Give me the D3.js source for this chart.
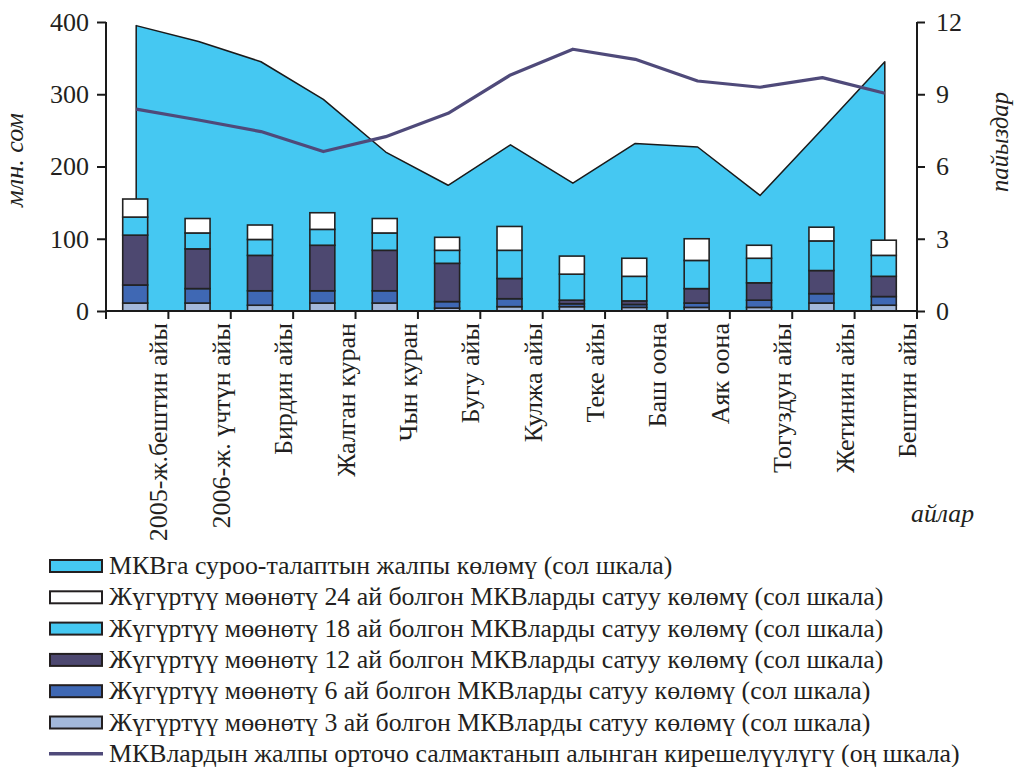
<!DOCTYPE html>
<html>
<head>
<meta charset="utf-8">
<script src="https://cdn.jsdelivr.net/npm/d3@7"></script>
</head>
<body style="margin:0">
<svg id="chart" width="1014" height="767"></svg>
<script>
const categories = ["2005-ж.бештин айы", "2006-ж. үчтүн айы", "Бирдин айы", "Жалган куран", "Чын куран",
  "Бугу айы", "Кулжа айы", "Теке айы", "Баш оона", "Аяк оона", "Тогуздун айы", "Жетинин айы", "Бештин айы"];

// total demand (left scale, mln som)
const demand = [395, 373, 345, 293, 220, 174, 230, 177, 232, 227, 160, 252, 345];
// sales volumes by maturity (left scale)
const sales3  = [11, 11, 8, 11, 11, 4, 6, 6, 5, 5, 5, 11, 8];
const sales6  = [25, 20, 20, 17, 17, 9, 11, 4, 4, 6, 10, 13, 12];
const sales12 = [69, 55, 49, 63, 56, 53, 28, 5, 5, 20, 24, 32, 28];
const sales18 = [25, 22, 22, 22, 24, 18, 39, 36, 34, 39, 34, 41, 29];
const sales24 = [25, 20, 20, 23, 20, 18, 33, 25, 25, 30, 18, 19, 21];
// weighted average yield (right scale, %)
const yieldVals = [8.38, 7.93, 7.45, 6.62, 7.24, 8.21, 9.80, 10.87, 10.45, 9.55, 9.29, 9.69, 9.04];

const leftTicks = [0, 100, 200, 300, 400];
const rightTicks = [0, 3, 6, 9, 12];

const seriesKeys = ["s3", "s6", "s12", "s18", "s24"];
const seriesColors = { s3: "#a3b8da", s6: "#3f68b4", s12: "#4d4870", s18: "#45c8f2", s24: "#ffffff" };
const areaColor = "#45c8f2";
const lineColor = "#4f4a7a";

const legendItems = [
  { label: "МКВга суроо-талаптын жалпы көлөмү (сол шкала)", type: "rect", color: areaColor },
  { label: "Жүгүртүү мөөнөтү 24 ай болгон МКВларды сатуу көлөмү (сол шкала)", type: "rect", color: seriesColors.s24 },
  { label: "Жүгүртүү мөөнөтү 18 ай болгон МКВларды сатуу көлөмү (сол шкала)", type: "rect", color: seriesColors.s18 },
  { label: "Жүгүртүү мөөнөтү 12 ай болгон МКВларды сатуу көлөмү (сол шкала)", type: "rect", color: seriesColors.s12 },
  { label: "Жүгүртүү мөөнөтү 6 ай болгон МКВларды сатуу көлөмү (сол шкала)", type: "rect", color: seriesColors.s6 },
  { label: "Жүгүртүү мөөнөтү 3 ай болгон МКВларды сатуу көлөмү (сол шкала)", type: "rect", color: seriesColors.s3 },
  { label: "МКВлардын жалпы орточо салмактанып алынган кирешелүүлүгү (оң шкала)", type: "line", color: lineColor }
];

const FONT = `"Liberation Serif", serif`;
const TEXT = "#231f20";
const ctx = document.createElement("canvas").getContext("2d");
function w(font, txt) { ctx.font = font; return ctx.measureText(txt).width; }
function fit(txt, target, italic) {
  const base = 40;
  return base * target / w(`${italic ? "italic " : ""}${base}px "Liberation Serif"`, txt);
}
function styleText(sel, size, italic) {
  sel.style("font-family", FONT).attr("font-size", size).attr("fill", TEXT);
  if (italic) sel.style("font-style", "italic");
  return sel;
}

const svg = d3.select("#chart").style("display", "block");
const L = 106, R = 917, T = 22, B = 311;

const x = d3.scaleBand().domain(d3.range(categories.length)).range([L, R]).padding(0);
const yL = d3.scaleLinear().domain([0, 400]).range([B, T]);
const yR = d3.scaleLinear().domain([0, 12]).range([B, T]);
const cx = i => x(i) + x.bandwidth() / 2 - 1;

// area
const area = d3.area().x((d, i) => cx(i)).y0(B).y1(d => yL(d));
svg.append("path").datum(demand)
  .attr("d", area)
  .attr("fill", areaColor)
  .attr("stroke", "#1a1a1a").attr("stroke-width", 1.5).attr("stroke-linejoin", "round");

// stacked bars
const rows = categories.map((c, i) => ({ s3: sales3[i], s6: sales6[i], s12: sales12[i], s18: sales18[i], s24: sales24[i] }));
const stacked = d3.stack().keys(seriesKeys)(rows);
const bw = x.bandwidth() * 0.4;
stacked.forEach(layer => {
  svg.append("g").selectAll("rect").data(layer).join("rect")
    .attr("x", (d, i) => cx(i) - bw / 2 - 1)
    .attr("width", bw)
    .attr("y", d => yL(d[1]))
    .attr("height", d => yL(d[0]) - yL(d[1]))
    .attr("fill", seriesColors[layer.key])
    .attr("stroke", "#222").attr("stroke-width", 1.6);
});

// line
const line = d3.line().x((d, i) => cx(i)).y(d => yR(d));
svg.append("path").datum(yieldVals)
  .attr("d", line).attr("fill", "none")
  .attr("stroke", lineColor).attr("stroke-width", 3.2).attr("stroke-linejoin", "round");

// axes
const axisFont = fit("400", 39, false);
const gL = svg.append("g").attr("transform", `translate(${L},0)`)
  .call(d3.axisLeft(yL).tickValues(leftTicks).tickSize(9).tickPadding(8).tickFormat(d3.format("d")));
const gR = svg.append("g").attr("transform", `translate(${R},0)`)
  .call(d3.axisRight(yR).tickValues(rightTicks).tickSize(8).tickPadding(11).tickFormat(d3.format("d")));
[gL, gR].forEach(g => {
  g.attr("font-family", null).attr("font-size", null);
  g.select(".domain").remove();
  g.selectAll(".tick line").attr("stroke", "#1a1a1a").attr("stroke-width", 2);
  styleText(g.selectAll("text"), axisFont, false);
});
svg.append("line").attr("x1", L).attr("x2", L).attr("y1", T).attr("y2", B + 7).attr("stroke", "#1a1a1a").attr("stroke-width", 2);
svg.append("line").attr("x1", R).attr("x2", R).attr("y1", T).attr("y2", B + 7).attr("stroke", "#1a1a1a").attr("stroke-width", 2);

// x axis
svg.append("line").attr("x1", L).attr("x2", R).attr("y1", B).attr("y2", B).attr("stroke", "#1a1a1a").attr("stroke-width", 2);
const xTicks = d3.range(categories.length + 1).map(i => L + i * x.bandwidth());
svg.append("g").selectAll("line").data(xTicks).join("line")
  .attr("x1", d => d).attr("x2", d => d).attr("y1", B).attr("y2", B + 8)
  .attr("stroke", "#1a1a1a").attr("stroke-width", 2);

const xFont = fit(categories[2], 132, false);
styleText(svg.append("g").selectAll("text").data(categories).join("text")
  .attr("transform", (d, i) => `translate(${x(i) + x.bandwidth() - 1},${B + 12}) rotate(-90)`)
  .attr("text-anchor", "end")
  .text(d => d), xFont, false);

// axis titles
styleText(svg.append("text").attr("transform", "translate(23,160) rotate(-90)")
  .attr("text-anchor", "middle").text("млн. сом"), fit("млн. сом", 94, true), true);
styleText(svg.append("text").attr("transform", "translate(1008,142) rotate(-90)")
  .attr("text-anchor", "middle").text("пайыздар"), fit("пайыздар", 100, true), true);
styleText(svg.append("text").attr("x", 974).attr("y", 522)
  .attr("text-anchor", "end").text("айлар"), fit("айлар", 63, true), true);

// legend
const legFont = fit(legendItems[6].label, 851, false);
const lg = svg.append("g");
legendItems.forEach((it, i) => {
  const yc = 566 + i * 31.3;
  const g = lg.append("g");
  if (it.type === "rect") {
    g.append("rect").attr("x", 50).attr("y", yc - 6).attr("width", 52).attr("height", 12)
      .attr("fill", it.color).attr("stroke", "#231f20").attr("stroke-width", 2);
  } else {
    g.append("line").attr("x1", 49).attr("x2", 103).attr("y1", yc).attr("y2", yc)
      .attr("stroke", it.color).attr("stroke-width", 3.5);
  }
  styleText(g.append("text").attr("x", 109).attr("y", yc + 8).text(it.label), legFont, false);
});
</script>
</body>
</html>
